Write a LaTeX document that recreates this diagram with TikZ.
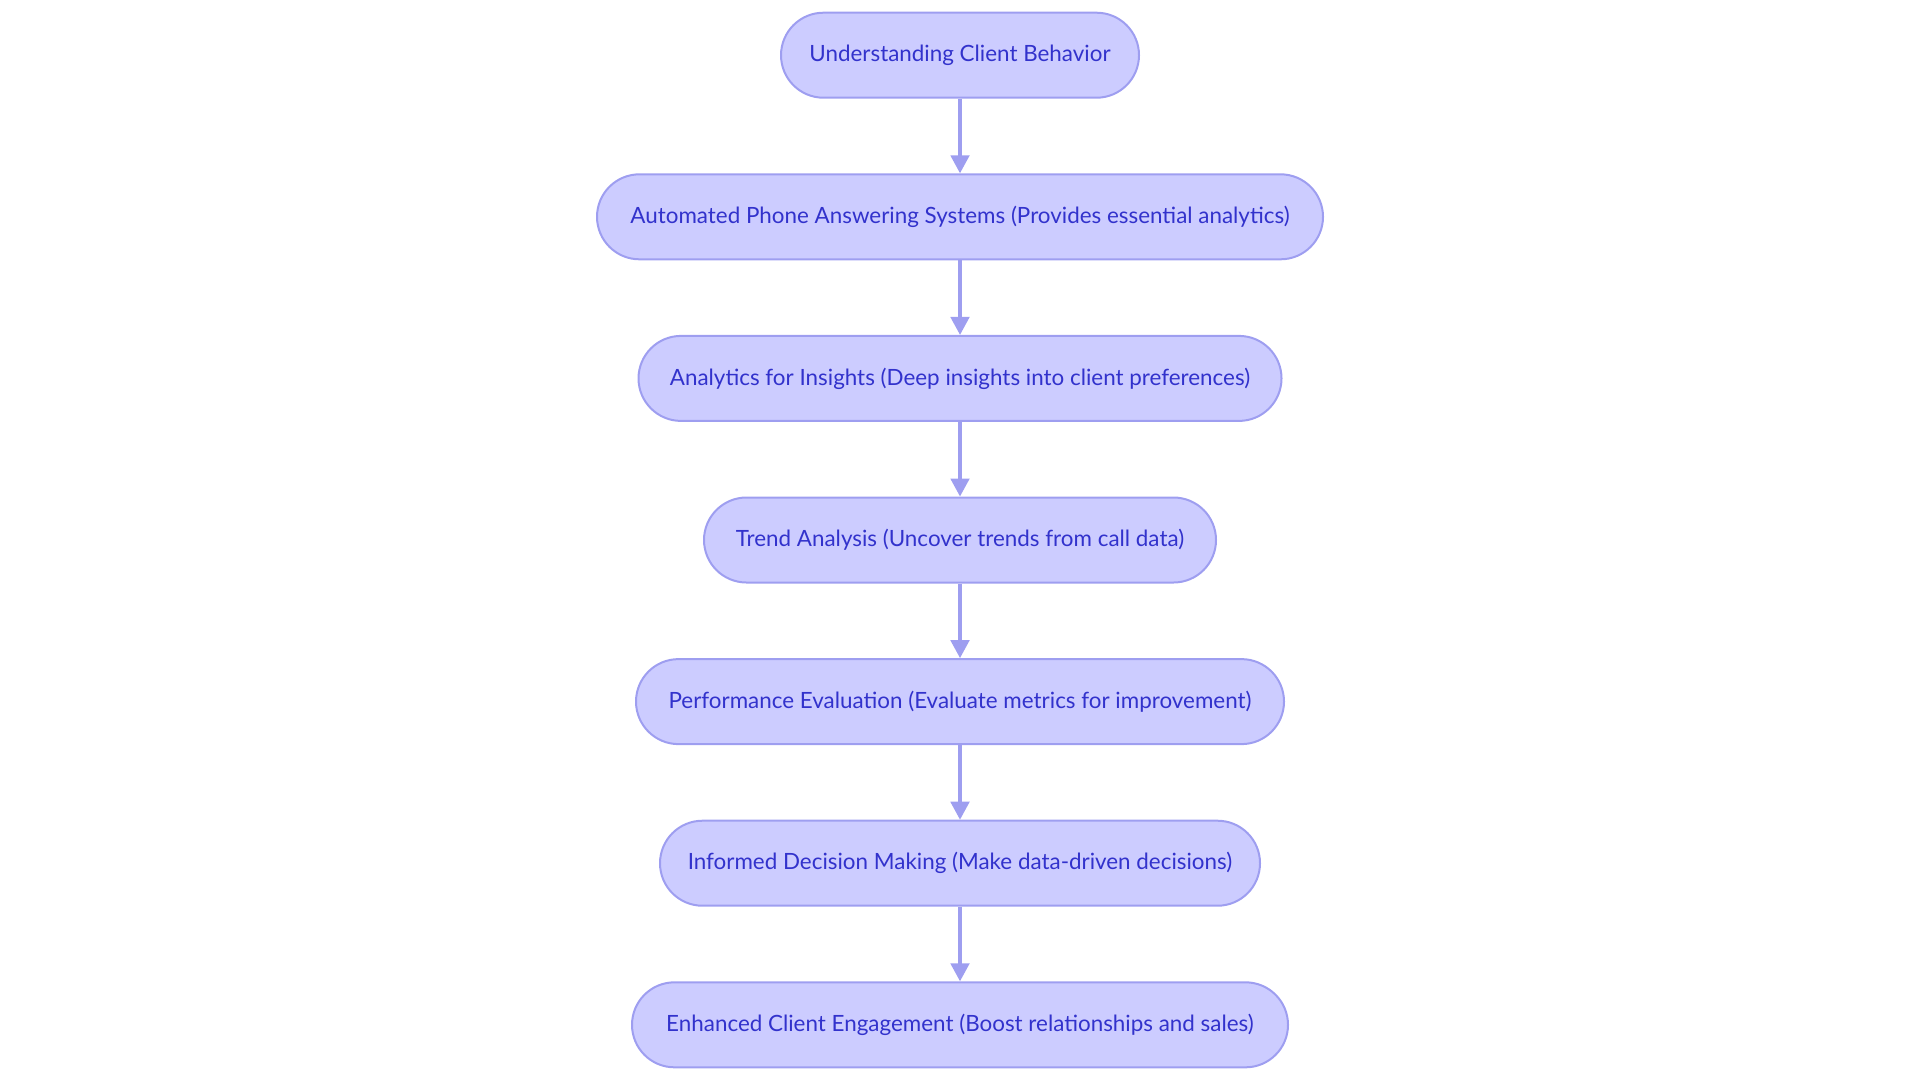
\documentclass[tikz,border=0pt]{standalone}
\usepackage{fontspec}
\setmainfont{Lato}
\usetikzlibrary{positioning,arrows.meta}

\definecolor{stage area}{RGB}{204,204,255}
\definecolor{stage edge}{RGB}{158,158,240}
\definecolor{stage text}{RGB}{50,50,204}
\tikzset{
  stage/.style={draw=stage edge, fill=stage area, line width=1pt,
  rounded corners=21.25pt, minimum height=42.5pt,
  text=stage text, font=\fontsize{11.2pt}{13pt}\selectfont},
  }
\tikzstyle{edge} = [draw, line width=1.6pt, stage edge, -{Triangle[width=9.3pt,length=9pt]}]

\begin{document}
\begin{tikzpicture}

    % Fixed frame of the page
    \useasboundingbox (0,0) rectangle (960pt,-541.5pt);

    \node[stage, minimum width=179pt] (understand) at (480pt,-27.6pt) {Understanding Client Behavior};
    \node[stage, minimum width=363pt, below=37.3pt of understand] (phone) {Automated Phone Answering Systems (Provides essential analytics)};
    \node[stage, minimum width=321.5pt, below=37.3pt of phone] (analytics) {Analytics for Insights (Deep insights into client preferences)};
    \node[stage, minimum width=256pt, below=37.3pt of analytics] (trend) {Trend Analysis (Uncover trends from call data)};
    \node[stage, minimum width=324pt, below=37.3pt of trend] (performance) {Performance Evaluation (Evaluate metrics for improvement)};
    \node[stage, minimum width=300pt, below=37.3pt of performance] (decision) {Informed Decision Making (Make data-driven decisions)};
    \node[stage, minimum width=328pt, below=37.3pt of decision] (engagement) {Enhanced Client Engagement (Boost relationships and sales)};

    \foreach \from/\to in {understand/phone, phone/analytics, analytics/trend,
      trend/performance, performance/decision, decision/engagement} {
      \path[edge] (\from) -- (\to);
    }
\end{tikzpicture}
\end{document}
